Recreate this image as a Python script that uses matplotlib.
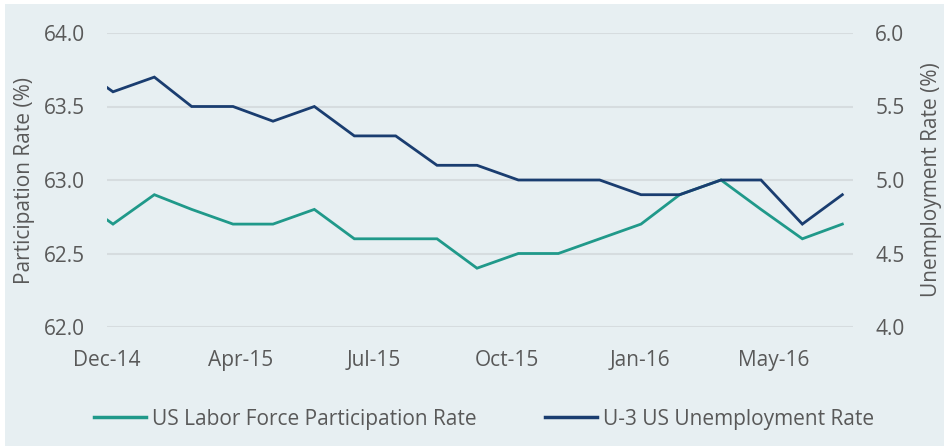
import matplotlib
matplotlib.use("Agg")
import matplotlib.pyplot as plt
from matplotlib.patches import Rectangle
import pandas as pd

plt.rcParams['font.family'] = ['Open Sans', 'DejaVu Sans']

# Monthly data (month-end), Nov-14 .. Jun-16 (first point lies left of the visible axis)
months = ["2014-11", "2014-12", "2015-01", "2015-02", "2015-03", "2015-04", "2015-05",
          "2015-06", "2015-07", "2015-08", "2015-09", "2015-10", "2015-11", "2015-12",
          "2016-01", "2016-02", "2016-03", "2016-04", "2016-05", "2016-06"]
participation = [62.9, 62.7, 62.9, 62.8, 62.7, 62.7, 62.8, 62.6, 62.6, 62.6, 62.4,
                 62.5, 62.5, 62.6, 62.7, 62.9, 63.0, 62.8, 62.6, 62.7]
unemployment = [5.8, 5.6, 5.7, 5.5, 5.5, 5.4, 5.5, 5.3, 5.3, 5.1, 5.1,
                5.0, 5.0, 5.0, 4.9, 4.9, 5.0, 5.0, 4.7, 4.9]
tick_labels = ["Dec-14", "Apr-15", "Jul-15", "Oct-15", "Jan-16", "May-16"]
left_ticks = [62.0, 62.5, 63.0, 63.5, 64.0]
right_ticks = [4.0, 4.5, 5.0, 5.5, 6.0]

dates = [pd.Period(m, freq="M").end_time.normalize() for m in months]

TEAL = "#20998A"
NAVY = "#1A3D70"
TXT = "#595959"
BG = "#E7EFF2"
GRID = "#D6DCDF"
FS = 15

W, H = 944, 446
fig = plt.figure(figsize=(W / 100, H / 100), dpi=100, facecolor="white")
fig.patches.append(Rectangle((5 / W, 0), 1 - 5 / W, 1 - 4 / H, transform=fig.transFigure,
                             facecolor=BG, edgecolor="none", zorder=-10))

ax = fig.add_axes([107 / W, 1 - 327 / H, (853 - 107) / W, (327 - 33) / H])
ax.set_facecolor("none")
ax2 = ax.twinx()
ax2.set_facecolor("none")

ax.plot(dates, participation, color=TEAL, lw=2.0, solid_joinstyle="miter", zorder=3)
ax2.plot(dates, unemployment, color=NAVY, lw=2.0, solid_joinstyle="miter", zorder=3)

start = pd.Timestamp("2014-12-26 12:00")
end = pd.Timestamp("2016-07-08")
ax.set_xlim(start, end)
tick_pos = [start + pd.Timedelta(days=100 * k) for k in range(len(tick_labels))]
ax.set_xticks(tick_pos)
ax.set_xticklabels(tick_labels)

ax.set_ylim(62.0, 64.0)
ax.set_yticks(left_ticks)
ax.set_yticklabels([f"{v:.1f}" for v in left_ticks])
ax2.set_ylim(4.0, 6.0)
ax2.set_yticks(right_ticks)
ax2.set_yticklabels([f"{v:.1f}" for v in right_ticks])

ax.grid(axis="y", color=GRID, lw=1.5, zorder=0)
ax.set_axisbelow(True)
for a in (ax, ax2):
    for s in a.spines.values():
        s.set_visible(False)
ax.tick_params(axis="x", length=0, pad=16.5, labelsize=FS, labelcolor=TXT)
ax.tick_params(axis="y", length=0, pad=16, labelsize=FS, labelcolor=TXT)
ax2.tick_params(axis="y", length=0, pad=16, labelsize=FS, labelcolor=TXT)

fig.text(25 / W, 1 - 180 / H, "Participation Rate (%)", rotation=90, ha="center",
         va="center", fontsize=FS, color=TXT)
fig.text(932 / W, 1 - 180 / H, "Unemployment Rate (%)", rotation=90, ha="center",
         va="center", fontsize=FS, color=TXT)

h1 = plt.Line2D([], [], color=TEAL, lw=2.5)
h2 = plt.Line2D([], [], color=NAVY, lw=2.5)
leg = fig.legend([h1, h2], ["US Labor Force Participation Rate", "U-3 US Unemployment Rate"],
                 loc="center", bbox_to_anchor=(484 / W, 1 - 419 / H), ncol=2, frameon=False,
                 fontsize=FS, handlelength=2.5, handletextpad=0.28, columnspacing=3.3,
                 borderpad=0, borderaxespad=0)
for t in leg.get_texts():
    t.set_color(TXT)

fig.savefig("out.png", dpi=100, facecolor=fig.get_facecolor())
